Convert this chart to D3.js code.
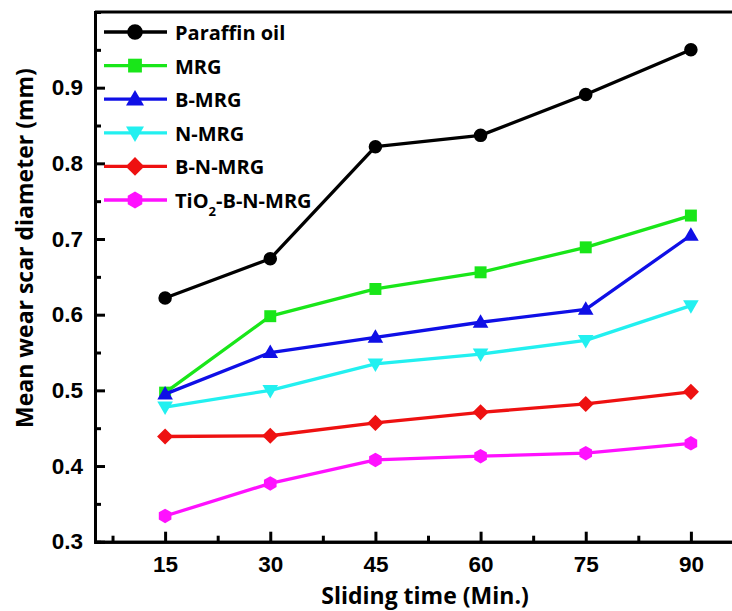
<!DOCTYPE html>
<html>
<head>
<meta charset="utf-8">
<script src="https://cdn.jsdelivr.net/npm/d3@7"></script>
<style>
  body { margin: 0; background: #fff; }
  svg { display: block; }
</style>
</head>
<body>
<div id="plot"></div>
<script>
// sliding time (min)
var times = [15, 30, 45, 60, 75, 90];

// mean wear scar diameter (mm)
var paraffin = [0.622, 0.674, 0.822, 0.837, 0.891, 0.950];
var mrg      = [0.497, 0.598, 0.634, 0.656, 0.689, 0.731];
var bMrg     = [0.495, 0.550, 0.570, 0.590, 0.607, 0.705];
var nMrg     = [0.478, 0.500, 0.535, 0.548, 0.566, 0.612];
var bnMrg    = [0.439, 0.440, 0.457, 0.471, 0.482, 0.498];
var tiMrg    = [0.334, 0.377, 0.408, 0.413, 0.417, 0.430];

var xTicks = [15, 30, 45, 60, 75, 90];
var yTicks = [0.3, 0.4, 0.5, 0.6, 0.7, 0.8, 0.9];

var series = [
    { name: 'Paraffin oil', values: paraffin, color: '#000000', shape: 'circle' },
    { name: 'MRG', values: mrg, color: '#19e619', shape: 'square' },
    { name: 'B-MRG', values: bMrg, color: '#0f0fe6', shape: 'triangle' },
    { name: 'N-MRG', values: nMrg, color: '#22f0f0', shape: 'triangleDown' },
    { name: 'B-N-MRG', values: bnMrg, color: '#ee1111', shape: 'diamond' },
    { name: 'TiO2-B-N-MRG', values: tiMrg, color: '#ff11ff', shape: 'hexagon' }
];

var W = 732, H = 611;
var svg = d3.select('#plot')
    .append('svg')
    .attr('width', W)
    .attr('height', H);

var x = d3.scaleLinear().domain([5, 100]).range([95, 761]);
var y = d3.scaleLinear().domain([0.3, 1.0]).range([541.7, 12]);

var tickFont = '"Liberation Sans", Arial, sans-serif';
var titleFont = '"Open Sans", "Noto Sans", sans-serif';

// marker path generators
function markerPath(shape, s) {
    var p = d3.path();
    if (shape === 'circle') {
        p.arc(0, 0, s * 0.52, 0, 2 * Math.PI);
    } else if (shape === 'square') {
        p.rect(-s * 0.46, -s * 0.46, s * 0.92, s * 0.92);
    } else if (shape === 'triangle') {
        p.moveTo(0, -s * 0.62); p.lineTo(s * 0.6, s * 0.42); p.lineTo(-s * 0.6, s * 0.42); p.closePath();
    } else if (shape === 'triangleDown') {
        p.moveTo(0, s * 0.62); p.lineTo(s * 0.6, -s * 0.42); p.lineTo(-s * 0.6, -s * 0.42); p.closePath();
    } else if (shape === 'diamond') {
        p.moveTo(0, -s * 0.62); p.lineTo(s * 0.62, 0); p.lineTo(0, s * 0.62); p.lineTo(-s * 0.62, 0); p.closePath();
    } else if (shape === 'hexagon') {
        for (var i = 0; i < 6; i++) {
            var a = Math.PI / 6 + i * Math.PI / 3;
            var px = s * 0.56 * Math.cos(a), py = s * 0.56 * Math.sin(a);
            if (i === 0) p.moveTo(px, py); else p.lineTo(px, py);
        }
        p.closePath();
    }
    return p.toString();
}

var line = d3.line()
    .x(function (d) { return x(d[0]); })
    .y(function (d) { return y(d[1]); });

// series lines + markers
series.forEach(function (s) {
    var pts = times.map(function (t, i) { return [t, s.values[i]]; });
    svg.append('path')
        .attr('d', line(pts))
        .attr('fill', 'none')
        .attr('stroke', s.color)
        .attr('stroke-width', 3.3)
        .attr('stroke-linejoin', 'round');
    svg.selectAll(null)
        .data(pts)
        .enter()
        .append('path')
        .attr('transform', function (d) { return 'translate(' + x(d[0]) + ',' + y(d[1]) + ')'; })
        .attr('d', markerPath(s.shape, 13))
        .attr('fill', s.color);
});

// axes (ticks inward)
var xAxis = d3.axisBottom(x).tickValues(xTicks).tickSizeInner(-10).tickSizeOuter(0).tickPadding(14).tickFormat(d3.format('d'));
var xMinor = d3.axisBottom(x).tickValues(d3.range(7.5, 100, 15)).tickSize(-6).tickFormat('');
var yAxis = d3.axisLeft(y).tickValues(yTicks).tickSizeInner(-10).tickSizeOuter(0).tickPadding(12).tickFormat(d3.format('.1f'));
var yMinor = d3.axisLeft(y).tickValues(d3.range(0.35, 1.0, 0.1)).tickSize(-6).tickFormat('');

function styleAxis(g) {
    g.select('.domain').attr('stroke-width', 3);
    g.selectAll('.tick line').attr('stroke-width', 3);
    g.selectAll('.tick text')
        .attr('font-family', tickFont)
        .attr('font-weight', 'bold')
        .attr('font-size', 22.5)
        .attr('fill', '#000');
}

svg.append('g').attr('transform', 'translate(0,' + y(0.3) + ')').call(xMinor).call(styleAxis);
svg.append('g').attr('transform', 'translate(0,' + y(0.3) + ')').call(xAxis).call(styleAxis);
svg.append('g').attr('transform', 'translate(' + x(5) + ',0)').call(yMinor).call(styleAxis);
svg.append('g').attr('transform', 'translate(' + x(5) + ',0)').call(yAxis).call(styleAxis);

// top frame line
svg.append('line')
    .attr('x1', x(5)).attr('x2', x(100))
    .attr('y1', y(1.0)).attr('y2', y(1.0))
    .attr('stroke', '#000').attr('stroke-width', 3);

// axis titles
svg.append('text')
    .attr('x', 425).attr('y', 604)
    .attr('text-anchor', 'middle')
    .attr('font-family', titleFont)
    .attr('font-weight', 'bold')
    .attr('font-size', 23)
    .text('Sliding time (Min.)');

svg.append('text')
    .attr('transform', 'translate(33,248) rotate(-90)')
    .attr('text-anchor', 'middle')
    .attr('font-family', titleFont)
    .attr('font-weight', 'bold')
    .attr('font-size', 23)
    .text('Mean wear scar diameter (mm)');

// legend
var legend = svg.append('g').attr('transform', 'translate(104,32)');
series.forEach(function (s, i) {
    var g = legend.append('g').attr('transform', 'translate(0,' + (i * 33.6) + ')');
    g.append('line')
        .attr('x1', 0).attr('x2', 63)
        .attr('stroke', s.color).attr('stroke-width', 3.3);
    g.append('path')
        .attr('transform', 'translate(31,0)')
        .attr('d', markerPath(s.shape, 15))
        .attr('fill', s.color);
    var t = g.append('text')
        .attr('x', 71).attr('y', 8)
        .attr('font-family', titleFont)
        .attr('font-weight', 'bold')
        .attr('font-size', 20)
        .attr('fill', '#000');
    if (s.name === 'TiO2-B-N-MRG') {
        t.append('tspan').text('TiO');
        t.append('tspan').attr('dy', 8).attr('font-size', 13).text('2');
        t.append('tspan').attr('dy', -8).text('-B-N-MRG');
    } else {
        t.text(s.name);
    }
});
</script>
</body>
</html>
